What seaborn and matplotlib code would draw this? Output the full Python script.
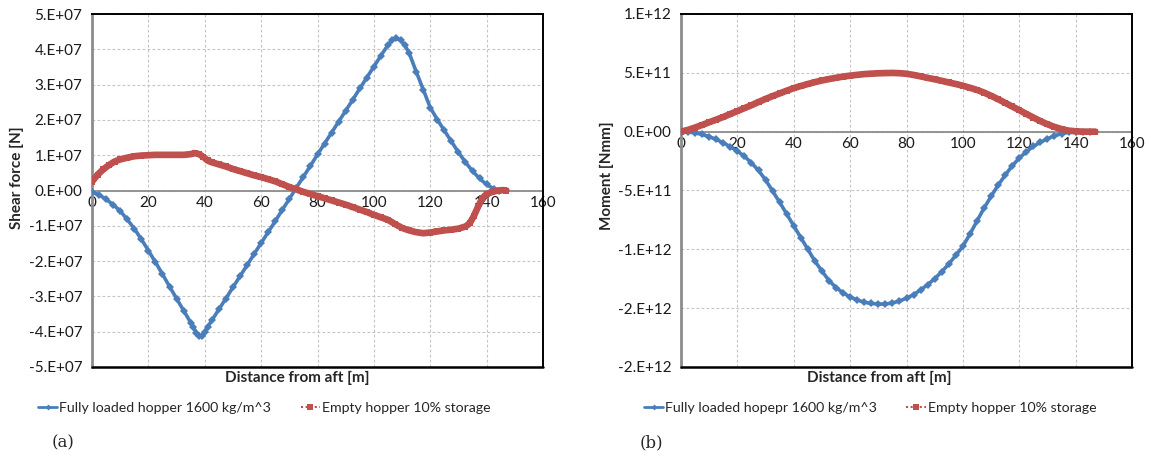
import numpy as np
import pandas as pd
import matplotlib
matplotlib.use("Agg")
import matplotlib.pyplot as plt
import seaborn as sns
from matplotlib.lines import Line2D

# ---------------- data ----------------
# (a) shear force [N], values in units of 1e7 N
shear_loaded_x = [0, 2.5, 5, 7.5, 10, 12.5, 15, 17.5, 20, 22.5, 25, 27.5, 30, 32.5, 35, 36, 37, 38, 39,
                  40, 41, 42.5, 45, 47.5, 50, 52.5, 55, 57.5, 60, 62.5, 65, 67.5, 70, 72.5, 75, 77.5, 80,
                  82.5, 85, 87.5, 90, 92.5, 95, 97.5, 100, 102.5, 105, 106.5, 108, 109.5, 111, 112.5,
                  115, 117.5, 120, 122.5, 125, 127.5, 130, 132.5, 135, 137.5, 140, 142.5, 144.5]
shear_loaded_y_e7 = [-0.05, -0.12, -0.25, -0.40, -0.58, -0.82, -1.08, -1.38, -1.70, -2.03, -2.37, -2.72,
                     -3.06, -3.40, -3.74, -3.88, -4.03, -4.12, -4.12, -4.01, -3.87, -3.68, -3.37, -3.06,
                     -2.74, -2.43, -2.12, -1.80, -1.49, -1.18, -0.87, -0.55, -0.24, 0.08, 0.39, 0.70, 1.02,
                     1.33, 1.64, 1.95, 2.26, 2.57, 2.89, 3.20, 3.51, 3.82, 4.12, 4.26, 4.31, 4.26, 4.11,
                     3.90, 3.37, 2.86, 2.35, 2.01, 1.70, 1.39, 1.08, 0.80, 0.55, 0.34, 0.17, 0.05, 0.00]

shear_empty_x = [0, 2, 4, 6, 8, 10, 12.5, 15, 17.5, 20, 22.5, 25, 27.5, 30, 32.5, 35, 36.5, 38, 39.5,
                 41, 42.5, 45, 47.5, 50, 52.5, 55, 57.5, 60, 62.5, 65, 67.5, 70, 72.5, 75, 77.5, 80,
                 82.5, 85, 87.5, 90, 92.5, 95, 97.5, 100, 102.5, 105, 107.5, 110, 112.5, 115, 117.5,
                 120, 122.5, 125, 127.5, 130, 132.5, 134, 135.5, 137, 138.5, 140, 142, 144, 146, 147]
shear_empty_y_e7 = [0.25, 0.45, 0.60, 0.72, 0.82, 0.88, 0.93, 0.97, 0.99, 1.00, 1.01, 1.01, 1.01, 1.01,
                    1.01, 1.03, 1.06, 1.03, 0.95, 0.85, 0.80, 0.74, 0.68, 0.61, 0.55, 0.49, 0.43, 0.38,
                    0.32, 0.26, 0.18, 0.10, 0.03, -0.04, -0.10, -0.16, -0.22, -0.28, -0.34, -0.40, -0.47,
                    -0.54, -0.61, -0.69, -0.76, -0.83, -0.95, -1.06, -1.13, -1.18, -1.21, -1.19, -1.16,
                    -1.13, -1.11, -1.08, -1.02, -0.93, -0.72, -0.45, -0.22, -0.10, -0.04, 0.00, 0.01, 0.00]

# (b) bending moment [Nmm], values in units of 1e12 Nmm
moment_loaded_x = [0, 2.5, 5, 7.5, 10, 12.5, 15, 17.5, 20, 22.5, 25, 27.5, 30, 32.5, 35, 37.5, 40,
                   42.5, 45, 47.5, 50, 52.5, 55, 57.5, 60, 62.5, 65, 67.5, 70, 72.5, 75, 77.5, 80,
                   82.5, 85, 87.5, 90, 92.5, 95, 97.5, 100, 102.5, 105, 107.5, 110, 112.5, 115, 117.5,
                   120, 122.5, 125, 127.5, 130, 132.5, 135, 137.5, 140, 142.5, 145]
moment_loaded_y_e12 = [0.0, -0.003, -0.010, -0.024, -0.042, -0.066, -0.095, -0.128, -0.165, -0.21,
                       -0.265, -0.33, -0.41, -0.505, -0.60, -0.70, -0.80, -0.90, -1.00, -1.10, -1.185,
                       -1.265, -1.325, -1.37, -1.405, -1.43, -1.45, -1.46, -1.465, -1.465, -1.455,
                       -1.44, -1.415, -1.385, -1.345, -1.30, -1.25, -1.19, -1.125, -1.05, -0.975,
                       -0.87, -0.76, -0.65, -0.55, -0.455, -0.37, -0.29, -0.225, -0.17, -0.125, -0.09,
                       -0.06, -0.035, -0.017, -0.006, -0.001, 0.0, 0.0]

moment_empty_x = [0, 2.5, 5, 7.5, 10, 12.5, 15, 17.5, 20, 22.5, 25, 27.5, 30, 32.5, 35, 37.5, 40,
                  42.5, 45, 47.5, 50, 52.5, 55, 57.5, 60, 62.5, 65, 67.5, 70, 72.5, 75, 77.5, 80,
                  82.5, 85, 87.5, 90, 92.5, 95, 97.5, 100, 102.5, 105, 107.5, 110, 112.5, 115, 117.5,
                  120, 122.5, 125, 127.5, 130, 132.5, 135, 137.5, 140, 142.5, 145, 147]
moment_empty_y_e12 = [0.0, 0.015, 0.035, 0.057, 0.08, 0.102, 0.125, 0.15, 0.175, 0.20, 0.225, 0.252,
                      0.278, 0.302, 0.325, 0.348, 0.37, 0.388, 0.405, 0.421, 0.435, 0.447, 0.458,
                      0.468, 0.476, 0.483, 0.489, 0.493, 0.496, 0.498, 0.499, 0.497, 0.492, 0.482,
                      0.470, 0.457, 0.445, 0.432, 0.418, 0.405, 0.390, 0.373, 0.355, 0.332, 0.305,
                      0.276, 0.245, 0.214, 0.183, 0.151, 0.12, 0.09, 0.063, 0.04, 0.022, 0.009, 0.003,
                      0.0, 0.0, 0.0]

x_ticks = [0, 20, 40, 60, 80, 100, 120, 140, 160]
x_tick_labels = ["0", "20", "40", "60", "80", "100", "120", "140", "160"]
shear_ticks = [5e7, 4e7, 3e7, 2e7, 1e7, 0, -1e7, -2e7, -3e7, -4e7, -5e7]
shear_tick_labels = ["5.E+07", "4.E+07", "3.E+07", "2.E+07", "1.E+07", "0.E+00",
                     "-1.E+07", "-2.E+07", "-3.E+07", "-4.E+07", "-5.E+07"]
moment_ticks = [1e12, 5e11, 0, -5e11, -1e12, -1.5e12, -2e12]
moment_tick_labels = ["1.E+12", "5.E+11", "0.E+00", "-5.E+11", "-1.E+12", "-2.E+12", "-2.E+12"]

label_a1 = "Fully loaded hopper 1600 kg/m^3"
label_a2 = "Empty hopper 10% storage"
label_b1 = "Fully loaded hopepr 1600 kg/m^3"
label_b2 = "Empty hopper 10% storage"

BLUE = "#4A7EBB"
RED = "#C0504D"

# ---------------- figure ----------------
sns.set_style("white")
plt.rcParams['font.family'] = ['Lato', 'DejaVu Sans']

W, H = 1151, 459
fig = plt.figure(figsize=(W / 100, H / 100), dpi=100)
axL = fig.add_axes([92 / W, 1 - 367 / H, (543 - 92) / W, (367 - 14) / H])
axR = fig.add_axes([681 / W, 1 - 367 / H, (1132 - 681) / W, (367 - 14) / H])


def draw(ax, x1, y1, x2, y2, scale):
    d1 = pd.DataFrame({"x": x1, "y": np.array(y1) * scale})
    d2 = pd.DataFrame({"x": x2, "y": np.array(y2) * scale})
    sns.lineplot(data=d1, x="x", y="y", ax=ax, color=BLUE, lw=2.6, marker="D", markersize=3.6,
                 markeredgewidth=0, sort=False, estimator=None, zorder=3)
    sns.lineplot(data=d2, x="x", y="y", ax=ax, color=RED, lw=4.8, marker="s", markersize=4.8,
                 markeredgewidth=0, sort=False, estimator=None, zorder=4)


def style(ax, yticks, ylabels, ylim):
    ax.set_xlim(0, 160)
    ax.set_ylim(*ylim)
    ax.set_xticks(x_ticks)
    ax.set_xticklabels(x_tick_labels)
    ax.set_yticks(yticks)
    ax.set_yticklabels(ylabels)
    ax.grid(True, color="#C4C4C4", linestyle=(0, (2.5, 2)), linewidth=0.8)
    ax.set_axisbelow(True)
    ax.spines["bottom"].set_position(("data", 0))
    ax.spines["bottom"].set_color("#8C8C8C")
    ax.spines["bottom"].set_linewidth(1.3)
    ax.spines["bottom"].set_zorder(2)
    ax.spines["left"].set_color("#8C8C8C")
    ax.spines["left"].set_linewidth(2.0)
    for s in ("top", "right"):
        ax.spines[s].set_color("black")
        ax.spines[s].set_linewidth(1.4)
    ax.add_line(Line2D([0, 1], [0, 0], transform=ax.transAxes, color="black", lw=1.8,
                       clip_on=False, zorder=5))
    ax.tick_params(axis="y", length=4, color="#8C8C8C", width=1, labelsize=11, pad=3,
                   labelcolor="#1a1a1a")
    ax.tick_params(axis="x", length=0, labelsize=11, pad=4, labelcolor="#1a1a1a")
    ax.set_xlabel("")
    ax.set_ylabel("")


draw(axL, shear_loaded_x, shear_loaded_y_e7, shear_empty_x, shear_empty_y_e7, 1e7)
draw(axR, moment_loaded_x, moment_loaded_y_e12, moment_empty_x, moment_empty_y_e12, 1e12)
style(axL, shear_ticks, shear_tick_labels, (-5e7, 5e7))
style(axR, moment_ticks, moment_tick_labels, (-2e12, 1e12))

# axis titles
fig.text(297 / W, 1 - 378 / H, "Distance from aft [m]", ha="center", va="center",
         fontsize=11, fontweight="bold")
fig.text(879 / W, 1 - 378 / H, "Distance from aft [m]", ha="center", va="center",
         fontsize=11, fontweight="bold")
fig.text(17 / W, 1 - 178 / H, "Shear force [N]", ha="center", va="center", rotation=90,
         fontsize=11, fontweight="bold")
fig.text(607 / W, 1 - 176 / H, "Moment [Nmm]", ha="center", va="center", rotation=90,
         fontsize=11, fontweight="bold")


def handles():
    return [Line2D([], [], color=BLUE, lw=2, marker="D", markersize=3, markeredgewidth=0),
            Line2D([], [], color=RED, lw=1.5, linestyle=(0, (1, 1.2)), marker="s", markersize=4,
                   markeredgewidth=0)]


leg_kw = dict(loc="center", ncol=2, frameon=False, fontsize=10.2, handlelength=1.4,
              handletextpad=0.1, columnspacing=2.1)
fig.legend(handles(), [label_a1, label_a2], bbox_to_anchor=(264 / W, 1 - 408 / H), **leg_kw)
fig.legend(handles(), [label_b1, label_b2], bbox_to_anchor=(870 / W, 1 - 408 / H), **leg_kw)

fig.text(52 / W, 1 - 443 / H, "(a)", ha="left", va="center", fontsize=12,
         family=["DejaVu Serif"])
fig.text(640 / W, 1 - 443 / H, "(b)", ha="left", va="center", fontsize=12,
         family=["DejaVu Serif"])

fig.savefig("out.png", dpi=100)
